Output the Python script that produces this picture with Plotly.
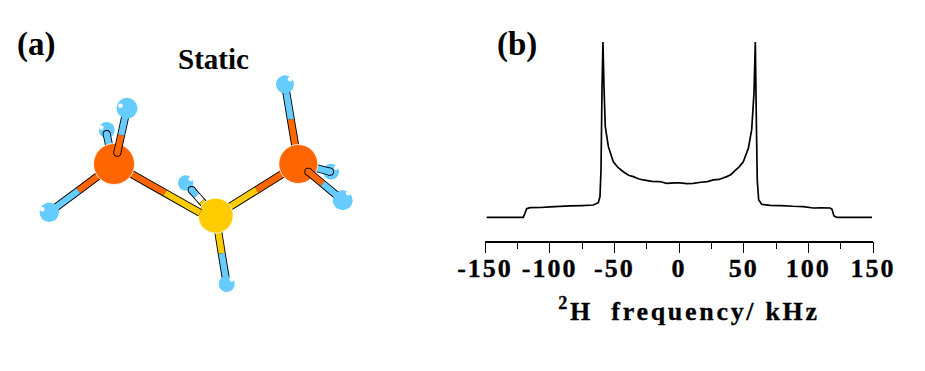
import plotly.graph_objects as go

# ---- spectrum (panel b) ----
freq_khz = [-148.7, -120.4, -119.1, -117.8, -115.2, -107.0, -99.7, -92.0, -84.3, -75.0, -66.3, -62.4, -61.1, -60.3,
            -59.5, -58.8, -58.0, -57.0, -54.6, -50.8, -47.0, -43.1, -39.0, -35.3, -31.5, -27.6, -21.0, -15.0, -9.5,
            -3.0, 0.8, 6.0, 11.0, 17.0, 22.0, 26.6, 31.0, 36.9, 40.0, 43.3, 46.5, 49.7, 53.6, 56.2, 58.0, 59.0, 59.8,
            60.5, 61.6, 63.9, 70.4, 79.0, 88.4, 96.0, 103.8, 110.0, 116.8, 118.3, 119.8, 122.0, 149.2]
intensity = [0.0, 0.0, 0.023, 0.049, 0.055, 0.056, 0.059, 0.062, 0.065, 0.067, 0.070, 0.083, 0.118, 0.27,
             0.745, 1.0, 0.745, 0.517, 0.403, 0.317, 0.283, 0.26, 0.24, 0.232, 0.220, 0.213, 0.205, 0.204, 0.194,
             0.196, 0.196, 0.192, 0.194, 0.200, 0.204, 0.213, 0.216, 0.232, 0.243, 0.266, 0.288, 0.317, 0.393, 0.50, 0.71, 1.0, 0.555,
             0.213, 0.10, 0.074, 0.068, 0.067, 0.063, 0.061, 0.053, 0.054, 0.053, 0.046, 0.008, 0.0, 0.0]
tick_values = [-150, -100, -50, 0, 50, 100, 150]
tick_labels = ["-150", "-100", "-50", "0", "50", "100", "150"]
minor_ticks = [-125, -75, -25, 25, 75, 125]

# ---- molecule (panel a), in picture units ----
BLUE, ORANGE, YELLOW, WHITE = "#66CCFF", "#FF6600", "#FFCC00", "#FFFFFF"
atoms = {
    "C1": (114.0, 164.0, 20.5, ORANGE, None),
    "C2": (298.3, 164.0, 19.5, ORANGE, None),
    "C3": (215.7, 215.7, 17.5, YELLOW, None),
    "Ha": (127.0, 108.3, 10.5, BLUE, (-6.5, -2.5)),
    "Hb": (106.7, 130.0, 8.0, BLUE, (-5.5, -2.5)),
    "Hc": (49.3, 212.3, 9.7, BLUE, (-7.0, -3.0)),
    "Hd": (285.0, 84.3, 9.0, BLUE, (5.0, -5.0)),
    "He": (331.0, 171.7, 8.0, BLUE, (5.0, -4.0)),
    "Hf": (342.7, 200.3, 10.0, BLUE, (5.5, -7.0)),
    "Hg": (185.7, 183.0, 7.7, BLUE, (5.0, -4.0)),
    "Hh": (226.7, 284.0, 8.0, BLUE, (5.0, -4.5)),
}
# each bond: polyline vertices, colour of each stretch, whether the first vertex has a round cap
bonds = {
    "C1-Ha": ([(117.3, 152.7), (121.2, 135.0), (127.0, 108.3)], [ORANGE, BLUE], True),
    "C1-Hb": ([(106.7, 134.0), (110.5, 152.0)], [BLUE], True),
    "C1-Hc": ([(114.0, 164.0), (78.3, 190.7), (49.3, 212.3)], [ORANGE, BLUE], False),
    "C1-C3": ([(114.0, 164.0), (165.0, 192.9), (200.0, 212.7)], [ORANGE, YELLOW], False),
    "C2-C3": ([(215.7, 215.7), (256.7, 190.0), (298.3, 164.0)], [YELLOW, ORANGE], False),
    "C2-Hd": ([(298.3, 164.0), (290.8, 119.3), (285.0, 84.3)], [ORANGE, BLUE], False),
    "C2-He": ([(330.0, 171.7), (312.0, 167.0)], [BLUE], True),
    "C2-Hf": ([(308.3, 171.7), (322.7, 183.7), (342.7, 200.3)], [ORANGE, BLUE], True),
    "C3-Hg": ([(191.7, 190.0), (196.7, 195.6), (201.7, 201.3), (207.0, 207.0)], [BLUE, WHITE, YELLOW], True),
    "C3-Hh": ([(215.7, 215.7), (221.7, 253.3), (226.7, 284.0)], [YELLOW, BLUE], False),
}
draw_order = ["Hb", "He", "Hg", "C1-Hb", "C2-He", "C3-Hg", "C1-Hc", "C2-Hd", "C3-Hh", "C2-C3", "C3", "C1-C3",
              "C1", "C2", "C1-Ha", "C2-Hf", "Ha", "Hc", "Hd", "Hf", "Hh"]

fig = go.Figure()
fig.add_trace(go.Scatter(x=freq_khz, y=intensity, mode="lines", xaxis="x", yaxis="y",
                         line=dict(color="#000000", width=1.7, simplify=False), hoverinfo="skip", showlegend=False))


def mol_trace(xs, ys, **kw):
    fig.add_trace(go.Scatter(x=xs, y=ys, xaxis="x2", yaxis="y2", hoverinfo="skip", showlegend=False, **kw))


def draw_atom(a):
    x, y, r, col, hl = atoms[a]
    mol_trace([x], [y], mode="markers",
              marker=dict(size=2 * r, color=col, line=dict(color="#FFFFFF", width=0.8 if hl is None else 0)))
    if hl:
        mol_trace([x + hl[0]], [y + hl[1]], mode="markers", marker=dict(size=4.5, color="#FFFFFF", line=dict(width=0)))


def draw_bond(b):
    pts, cols, cap = bonds[b]
    xs, ys = zip(*pts)
    mol_trace(list(xs), list(ys), mode="lines", line=dict(color="#000000", width=8, simplify=False))
    if cap:
        mol_trace([xs[0]], [ys[0]], mode="markers", marker=dict(size=8, color="#000000", line=dict(width=0)))
        mol_trace([xs[0]], [ys[0]], mode="markers", marker=dict(size=6.2, color=cols[0], line=dict(width=0)))
    for i, c in enumerate(cols):
        mol_trace([xs[i], xs[i + 1]], [ys[i], ys[i + 1]], mode="lines", line=dict(color=c, width=6.2))


for item in draw_order:
    (draw_atom if item in atoms else draw_bond)(item)

SERIF = "Liberation Serif"
W, H = 925, 371
fig.update_layout(
    width=W, height=H, autosize=False, margin=dict(l=0, r=0, t=0, b=0),
    paper_bgcolor="#FFFFFF", plot_bgcolor="rgba(0,0,0,0)", showlegend=False,
    xaxis=dict(domain=[485 / W, 873 / W], range=[-150, 150], tickmode="array", tickvals=tick_values, ticktext=tick_labels,
               ticks="outside", ticklen=11, tickwidth=1.3, tickcolor="#000000", showline=True, linecolor="#000000",
               linewidth=1.5, showgrid=False, zeroline=False, anchor="y", tickangle=0, automargin=False,
               ticklabelstandoff=-8,
               minor=dict(tickmode="array", tickvals=minor_ticks, ticks="outside", ticklen=7, tickwidth=1.3, tickcolor="#000000", showgrid=False),
               tickfont=dict(family=SERIF, size=26, color="#000000", weight="bold"),
               title=dict(text="<sup>2</sup>H  frequency/ kHz", standoff=20,
                          font=dict(family=SERIF, size=26, color="#000000", weight="bold"))),
    yaxis=dict(domain=[130.3 / H, 341 / H], range=[-0.1335, 1.0685], visible=False, anchor="x", automargin=False),
    xaxis2=dict(domain=[0, 1], range=[0, W], visible=False, anchor="y2", automargin=False),
    yaxis2=dict(domain=[0, 1], range=[H, 0], visible=False, anchor="x2", automargin=False),
    annotations=[
        dict(text="(a)", x=35.5, y=44, xref="x2", yref="y2", showarrow=False,
             font=dict(family=SERIF, size=33, color="#000000", weight="bold")),
        dict(text="Static", x=213, y=59, xref="x2", yref="y2", showarrow=False,
             font=dict(family=SERIF, size=29, color="#000000", weight="bold")),
        dict(text="(b)", x=517, y=44, xref="x2", yref="y2", showarrow=False,
             font=dict(family=SERIF, size=33, color="#000000", weight="bold")),
    ],
)
css = ("document.body.style.margin='0';var s=document.createElement('style');"
       "s.textContent='.xtick text{letter-spacing:2px;stroke:#000;stroke-width:.35px}"
       ".xtitle{letter-spacing:2.7px;stroke:#000;stroke-width:.3px;transform:translateX(10px)}';"
       "document.head.appendChild(s);")
fig.write_html("out.html", post_script=css, config={"displayModeBar": False})
